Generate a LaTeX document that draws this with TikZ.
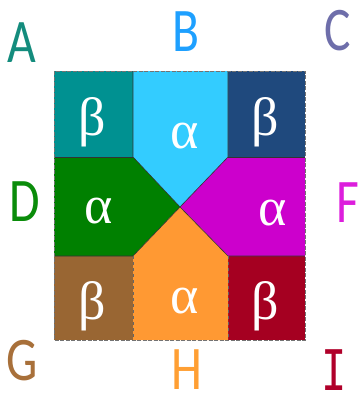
\documentclass[tikz,border=0pt]{standalone}
\usepackage{fontspec}
\setmainfont{Liberation Serif}
\newfontfamily\capfont{Carlito}
\newfontfamily\monocap{DejaVu Sans Mono}
\definecolor{cTeal}{RGB}{0,145,145}
\definecolor{cLBlue}{RGB}{51,204,255}
\definecolor{cDBlue}{RGB}{31,73,125}
\definecolor{cGreen}{RGB}{0,128,0}
\definecolor{cMag}{RGB}{204,0,204}
\definecolor{cBrown}{RGB}{153,102,51}
\definecolor{cOrange}{RGB}{255,153,51}
\definecolor{cRed}{RGB}{165,0,33}
\definecolor{tA}{RGB}{20,140,125}
\definecolor{tB}{RGB}{30,160,255}
\definecolor{tC}{RGB}{110,110,170}
\definecolor{tD}{RGB}{10,140,10}
\definecolor{tF}{RGB}{220,30,220}
\definecolor{tG}{RGB}{168,112,58}
\definecolor{tH}{RGB}{255,159,51}
\definecolor{tI}{RGB}{176,0,42}
\tikzset{
  region/.style={draw=black!80, line width=0.6pt, line join=round},
  greek/.style={text=white, inner sep=0pt, font=\fontsize{54}{58}\selectfont},
  corner/.style={inner sep=0pt, font=\capfont\fontsize{62}{66}\selectfont},
}
\newcommand{\narrowcap}[1]{\scalebox{0.8}[1]{#1}}
\begin{document}
\begin{tikzpicture}[x=1pt,y=-1pt]
\useasboundingbox (0,0) rectangle (360,397);
% regions
\fill[cTeal]   (54,71) rectangle (133,157);
\fill[cDBlue]  (228,71) rectangle (305,157);
\fill[cBrown]  (54,256) rectangle (133,340);
\fill[cRed]    (228,256) rectangle (305,340);
\fill[cLBlue]  (133,71) -- (228,71) -- (228,157) -- (180,207) -- (133,157) -- cycle;
\fill[cGreen]  (54,157) -- (133,157) -- (180,207) -- (133,256) -- (54,256) -- cycle;
\fill[cMag]    (305,157) -- (228,157) -- (180,207) -- (228,256) -- (305,256) -- cycle;
\fill[cOrange] (133,340) -- (133,256) -- (180,207) -- (228,256) -- (228,340) -- cycle;
% internal boundaries
\draw[region] (133,71) -- (133,157) -- (180,207) -- (228,157) -- (228,71);
\draw[region] (54,157) -- (133,157);
\draw[region] (228,157) -- (305,157);
\draw[region] (54,256) -- (133,256) -- (180,207) -- (228,256) -- (305,256);
\draw[region, dashed, draw=black!60] (133,256) -- (133,340);
\draw[region, dashed, draw=black!60] (228,256) -- (228,340);
% outer border
\draw[draw=black!55, line width=1pt, dash pattern=on 4pt off 1.5pt] (54,71) rectangle (305,340);
% greek labels
\node[greek] (b1) at (92.5,122) {β};
\node[greek] (a1) at (185,136) {α};
\node[greek] (b2) at (265,122) {β};
\node[greek] (a2) at (99,211) {α};
\node[greek] (a3) at (272.5,213) {α};
\node[greek] (b3) at (92.5,306) {β};
\node[greek] (a4) at (185,301) {α};
\node[greek] (b4) at (265.5,306) {β};
% corner letters
\node[corner, text=tA] (A) at (21.5,43) {\narrowcap{A}};
\node[corner, text=tB] (B) at (186,32) {\narrowcap{B}};
\node[corner, text=tC] (C) at (338,31) {\narrowcap{C}};
\node[corner, text=tD] (D) at (24.5,202) {\narrowcap{D}};
\node[corner, text=tF] (F) at (348,203) {\narrowcap{F}};
\node[corner, text=tG] (G) at (22.5,361) {\narrowcap{G}};
\node[corner, text=tH] (H) at (187,370) {\narrowcap{H}};
\node[corner, text=tI] (I) at (334,370) {\scalebox{0.75}[1]{\monocap\fontsize{56}{60}\selectfont I}};
\end{tikzpicture}
\end{document}
